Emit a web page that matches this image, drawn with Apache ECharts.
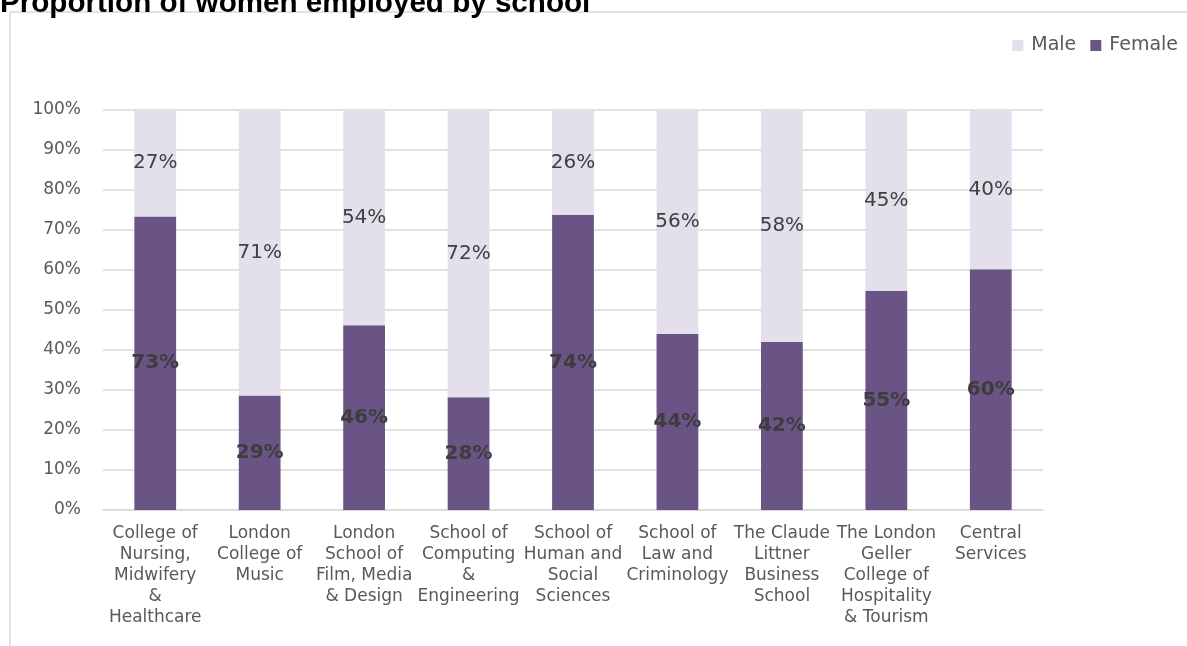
<!DOCTYPE html>
<html><head><meta charset="utf-8">
<script src="https://cdn.jsdelivr.net/npm/echarts@6/dist/echarts.min.js"></script>
<style>html,body{margin:0;padding:0;background:#fff}#c{width:1187px;height:646px}</style>
</head><body><div id="c"></div>
<script>
const titleText = "Proportion of women employed by school";
const categories = [
  "College of\nNursing,\nMidwifery\n&\nHealthcare",
  "London\nCollege of\nMusic",
  "London\nSchool of\nFilm, Media\n& Design",
  "School of\nComputing\n&\nEngineering",
  "School of\nHuman and\nSocial\nSciences",
  "School of\nLaw and\nCriminology",
  "The Claude\nLittner\nBusiness\nSchool",
  "The London\nGeller\nCollege of\nHospitality\n& Tourism",
  "Central\nServices"
];
const femaleValues = [73.4, 28.6, 46.2, 28.2, 73.8, 44.0, 42.0, 54.8, 60.2];
const maleValues   = [26.6, 71.4, 53.8, 71.8, 26.2, 56.0, 58.0, 45.2, 39.8];
const yTicks = [0, 10, 20, 30, 40, 50, 60, 70, 80, 90, 100];

const FONT = "DejaVu Sans";
const chart = echarts.init(document.getElementById('c'), null, {renderer: 'canvas'});
chart.setOption({
  animation: false,
  title: {
    text: titleText, left: 0, top: -11, padding: 0,
    textStyle: {fontFamily: "Liberation Sans, Arial", fontWeight: 'bold', fontSize: 29.6, color: '#000'}
  },
  graphic: [{
    type: 'rect', shape: {x: 10, y: 12, width: 1300, height: 800},
    style: {fill: 'none', stroke: '#d9d9d9', lineWidth: 1.5}, z: -1
  }],
  legend: {
    right: 4, top: 31, itemWidth: 11, itemHeight: 11, itemGap: 14,
    icon: 'rect',
    textStyle: {fontFamily: FONT, fontSize: 19, color: '#595959', padding: [0, 0, 0, 3]},
    data: ['Male', 'Female']
  },
  grid: {left: 103, right: 144, top: 110, bottom: 136},
  xAxis: {
    type: 'category', data: categories,
    axisLine: {lineStyle: {color: '#d9d9d9', width: 1.5}},
    axisTick: {show: false},
    axisLabel: {fontFamily: FONT, fontSize: 17, color: '#595959', lineHeight: 21, margin: 13, interval: 0}
  },
  yAxis: {
    type: 'value', min: yTicks[0], max: yTicks[yTicks.length - 1], interval: 10,
    axisLine: {show: false}, axisTick: {show: false},
    splitLine: {lineStyle: {color: '#d9d9d9', width: 1.5}},
    axisLabel: {fontFamily: FONT, fontSize: 17, color: '#595959', margin: 22,
      formatter: v => v + '%'}
  },
  series: [
    {
      name: 'Female', type: 'bar', stack: 'total', data: femaleValues, barWidth: '40%',
      itemStyle: {color: '#695485'},
      label: {show: true, position: 'inside', fontFamily: FONT, fontSize: 20, fontWeight: 'bold',
        color: '#3d3d3d', formatter: p => Math.round(p.value) + '%'}
    },
    {
      name: 'Male', type: 'bar', stack: 'total', data: maleValues, barWidth: '40%',
      itemStyle: {color: '#e3dfeb'},
      label: {show: true, position: 'inside', fontFamily: FONT, fontSize: 20,
        color: '#404040', formatter: p => Math.round(p.value) + '%'}
    }
  ]
});
</script></body></html>
